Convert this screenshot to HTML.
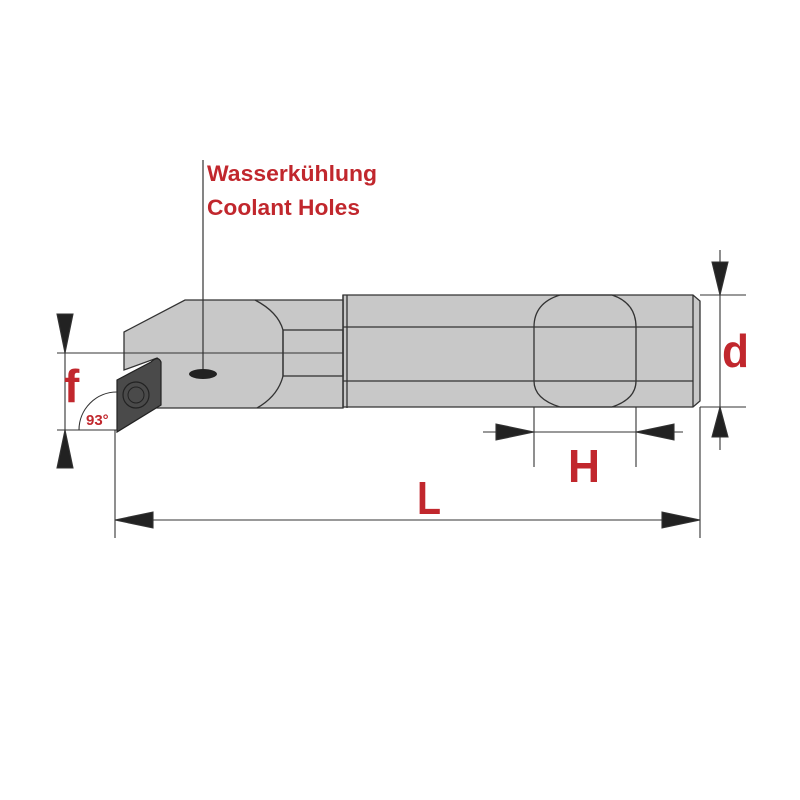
<!DOCTYPE html>
<html><head><meta charset="utf-8"><style>html,body{margin:0;padding:0;background:#fff}svg{display:block}</style></head>
<body>
<svg width="800" height="800" viewBox="0 0 800 800" xmlns="http://www.w3.org/2000/svg" font-family="Liberation Sans, sans-serif">
<g stroke="#333" stroke-width="1.3" fill="#c8c8c8">
<path d="M343 295 L693 295 L700 301 L700 401 L693 407 L343 407 Z"/>
<line x1="693" y1="295" x2="693" y2="407"/>
<line x1="343" y1="327" x2="693" y2="327"/>
<line x1="343" y1="381" x2="693" y2="381"/>
<path d="M560 295 L612 295 Q636 303 636 327 L636 381 Q636 399 612 407 L560 407 Q534 399 534 381 L534 327 Q534 303 560 295" fill="none"/>
<path d="M185 300 L343 300 L343 408 L157 408 L157 358 L124 370 L124 332 Z"/>
<line x1="343" y1="295" x2="343" y2="408"/>
<line x1="347" y1="295" x2="347" y2="408"/>
<path d="M255 300 Q278 312 283 330 L283 376 Q278 396 257 408" fill="none"/>
<rect x="283" y="330" width="60" height="46" fill="none"/>
</g>
<line x1="57" y1="353" x2="343" y2="353" stroke="#333" stroke-width="1.1"/>
<path d="M117 380 L151 362 Q158 355 161 362 L161 405 L117 432 Z" fill="#4a4a4a" stroke="#222" stroke-width="1.2"/>
<circle cx="136" cy="395" r="13" fill="none" stroke="#222" stroke-width="1.2"/>
<circle cx="136" cy="395" r="8" fill="none" stroke="#222" stroke-width="1"/>
<line x1="203" y1="160" x2="203" y2="374" stroke="#333" stroke-width="1.2"/>
<ellipse cx="203" cy="374" rx="14" ry="5" fill="#222"/>
<text x="207" y="181" font-size="22" font-weight="bold" fill="#c1272d" textLength="170" lengthAdjust="spacingAndGlyphs">Wasserkühlung</text>
<text x="207" y="215" font-size="22" font-weight="bold" fill="#c1272d" textLength="153" lengthAdjust="spacingAndGlyphs">Coolant Holes</text>
<g stroke="#333" stroke-width="1.1" fill="#222">
<line x1="57" y1="430" x2="117" y2="430"/>
<line x1="65" y1="314" x2="65" y2="468"/>
<path d="M57 314 L73 314 L65 353 Z"/>
<path d="M57 468 L73 468 L65 430 Z"/>
<path d="M79 430 A38 38 0 0 1 117 392" fill="none"/>
<line x1="115" y1="430" x2="115" y2="538"/>
<line x1="700" y1="407" x2="700" y2="538"/>
<line x1="115" y1="520" x2="700" y2="520"/>
<path d="M115 520 L153 512 L153 528 Z"/>
<path d="M700 520 L662 512 L662 528 Z"/>
<line x1="534" y1="407" x2="534" y2="467"/>
<line x1="636" y1="407" x2="636" y2="467"/>
<line x1="483" y1="432" x2="683" y2="432"/>
<path d="M534 432 L496 424 L496 440 Z"/>
<path d="M636 432 L674 424 L674 440 Z"/>
<line x1="700" y1="295" x2="746" y2="295"/>
<line x1="700" y1="407" x2="746" y2="407"/>
<line x1="720" y1="250" x2="720" y2="450"/>
<path d="M712 262 L728 262 L720 295 Z"/>
<path d="M712 437 L728 437 L720 407 Z"/>
</g>
<g fill="#c1272d" font-weight="bold">
<text x="64" y="402" font-size="46">f</text>
<text x="86" y="425" font-size="15">93°</text>
<text x="417" y="514" font-size="46" textLength="24" lengthAdjust="spacingAndGlyphs">L</text>
<text x="568" y="482" font-size="46" textLength="32" lengthAdjust="spacingAndGlyphs">H</text>
<text x="722" y="367" font-size="46" textLength="27" lengthAdjust="spacingAndGlyphs">d</text>
</g>
</svg>
</body></html>
